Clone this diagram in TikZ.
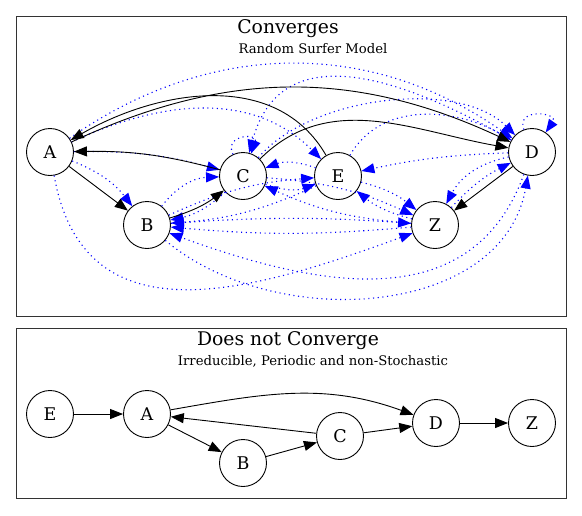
\documentclass[tikz,border=0pt]{standalone}
\usepackage{fontspec}
\setmainfont{DejaVu Serif}
\usetikzlibrary{arrows.meta}
\usetikzlibrary{positioning}

\tikzset{
  state/.style={circle,draw,line width=0.9pt,minimum size=47pt,inner sep=0pt,font=\fontsize{17.5}{17.5}\selectfont},
  link/.style={-{Triangle[length=13pt,width=10pt]},line width=0.9pt,black},
  surf/.style={-{Triangle[length=13pt,width=10pt]},line width=1.1pt,blue,dash pattern=on 1.1pt off 3.6pt},
  cluster/.style={draw=black!80,line width=1pt},
  title/.style={font=\fontsize{18.8}{19}\selectfont},
  subtitle/.style={font=\fontsize{13.2}{13.5}\selectfont},
}

\begin{document}
\begin{tikzpicture}[x=1pt,y=1pt]
    \useasboundingbox (0,0) rectangle (582,-515);
    % clusters
    \draw[cluster] (16,-16) rectangle (566,-316);
    \draw[cluster] (16,-328) rectangle (566,-498);
    \node[title] (conv) at (288,-29) {Converges};
    \node[subtitle] (convsub) at (313,-49) {Random Surfer Model};
    \node[title] (nconv) at (288,-341) {Does not Converge};
    \node[subtitle] (nconvsub) at (313,-361) {Irreducible, Periodic and non-Stochastic};

    % Converges
    \node[state] (A) at (50,-152) {A};
    \node[state] (B) at (147,-225) {B};
    \node[state] (C) at (243,-176) {C};
    \node[state] (E) at (338,-176) {E};
    \node[state] (Z) at (435,-225) {Z};
    \node[state] (D) at (532,-152) {D};

    \draw[surf] (A) to[out=35,in=145] (D);
    \draw[surf] (A) to[out=25,in=135] (E);
    \draw[surf] (A) to[bend left=8] (C);
    \draw[surf] (A) to[bend left=15] (B);
    \draw[surf] (A) to[out=-80,in=200,looseness=1.2] (Z);
    \draw[surf] (B) to[bend left=25] (C);
    \draw[surf] (B) to[bend left=10] (E);
    \draw[surf] (B) to[bend left=4] (Z);
    \draw[surf] (B) to[out=-40,in=-100] (D);
    \draw[surf] (C) to[bend left=15] (B);
    \draw[surf] (C) edge[loop,out=115,in=70,min distance=22pt] (C);
    \draw[surf] (C) to[bend right=20] (E);
    \draw[surf] (C) to[bend left=10] (Z);
    \draw[surf] (C) to[out=50,in=135,looseness=0.8] (D);
    \draw[surf] (D) edge[loop,out=110,in=55,min distance=24pt] (D);
    \draw[surf] (D) to[out=-110,in=-20,looseness=1.1] (B);
    \draw[surf] (D) to[out=150,in=75,looseness=1.2] (C);
    \draw[surf] (D) to[bend right=5] (E);
    \draw[surf] (D) to[bend right=25] (Z);
    \draw[surf] (E) to[bend left=10] (B);
    \draw[surf] (E) to[bend right=20] (C);
    \draw[surf] (E) to[bend left=12] (Z);
    \draw[surf] (E) to[out=60,in=150] (D);
    \draw[surf] (Z) to[bend left=5] (B);
    \draw[surf] (Z) to[bend left=10] (C);
    \draw[surf] (Z) to[bend left=12] (E);
    \draw[surf] (Z) to[bend left=10] (D);

    \draw[link] (A) -- (B);
    \draw[link] (B) to[bend right=10] (C);
    \draw[link] (C) to[bend right=8] (A);
    \draw[link] (E) to[out=120,in=30] (A);
    \draw[link] (A) to[out=25,in=155] (D);
    \draw[link] (C) to[out=45,in=170] (D);
    \draw[link] (D) -- (Z);

    % Does not Converge
    \node[state] (E2) at (50,-414) {E};
    \node[state] (A2) at (147,-414) {A};
    \node[state] (B2) at (243,-463) {B};
    \node[state] (C2) at (340,-436) {C};
    \node[state] (D2) at (436,-423) {D};
    \node[state] (Z2) at (532,-423) {Z};

    \draw[link] (E2) -- (A2);
    \draw[link] (A2) -- (B2);
    \draw[link] (B2) -- (C2);
    \draw[link] (C2) -- (A2);
    \draw[link] (A2) to[out=10,in=160] (D2);
    \draw[link] (C2) -- (D2);
    \draw[link] (D2) -- (Z2);
\end{tikzpicture}
\end{document}
